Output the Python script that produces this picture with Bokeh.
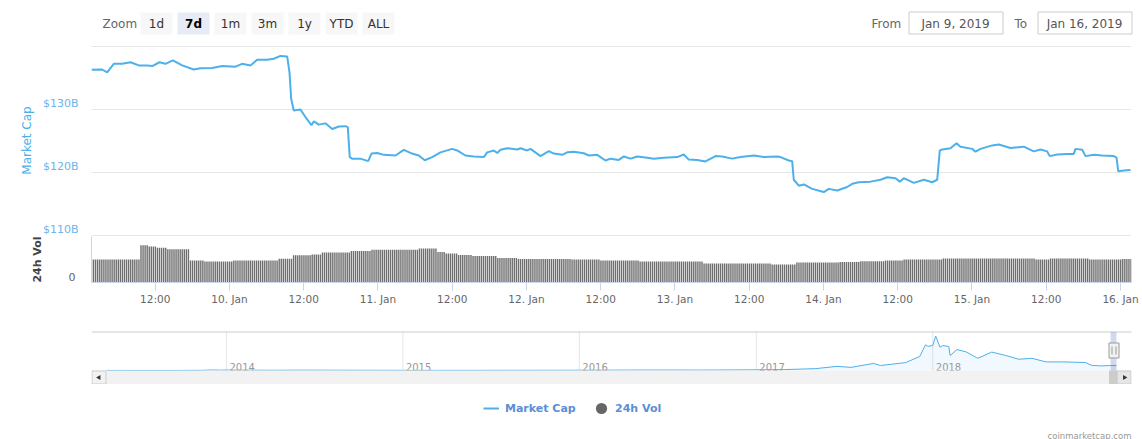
import numpy as np
import pandas as pd
from bokeh.plotting import figure
from bokeh.layouts import column
from bokeh.models import (Range1d, LinearAxis, FixedTicker, Grid, Legend, LegendItem)
from bokeh.core.properties import value
from bokeh.embed import file_html
from bokeh.resources import INLINE

# ---------------- data ----------------
T0 = pd.Timestamp("2019-01-09 00:00")          # hours below are counted from here
view_hours = [1.70, 169.78]                     # visible window of the main chart

cap_hours = [1.70, 3.43, 4.23, 5.30, 6.66, 8.00, 9.34, 10.70, 11.51, 12.69, 13.66, 14.84,
             16.36, 18.23, 19.31, 21.20, 22.82, 24.97, 26.05, 27.39, 28.48, 30.09, 31.16,
             32.24, 33.33, 33.70, 33.97, 34.39, 35.47, 36.28, 37.25, 37.62, 38.43, 39.52,
             40.60, 41.67, 42.75, 43.12, 43.44, 43.83, 45.17, 46.42, 46.95, 47.87, 48.94,
             50.83, 52.17, 53.25, 54.59, 55.56, 56.76, 58.10, 59.99, 60.80, 62.14, 63.48,
             65.10, 65.65, 66.72, 67.27, 67.80, 68.88, 70.50, 71.03, 72.11, 72.65, 74.26,
             75.61, 76.41, 77.77, 78.58, 79.65, 81.26, 82.07, 83.43, 84.77, 85.58, 86.92,
             87.73, 88.81, 89.89, 91.51, 92.58, 94.19, 96.36, 97.42, 98.23, 99.59, 100.93,
             102.55, 103.63, 105.25, 106.59, 108.74, 110.36, 112.52, 113.05, 114.39, 114.94,
             115.20, 116.01, 116.82, 118.18, 120.05, 120.86, 122.22, 123.83, 124.64, 125.71,
             127.60, 129.22, 130.30, 131.64, 132.33, 132.98, 134.60, 136.21, 137.57, 138.38,
             138.80, 139.19, 140.53, 141.50, 142.14, 144.04, 144.57, 145.38, 147.27, 148.33,
             150.22, 152.37, 153.99, 155.07, 156.15, 156.57, 157.77, 159.38, 160.45, 160.73,
             161.81, 162.35, 163.69, 165.04, 166.92, 167.36, 167.63, 168.54, 169.62]
cap_values = [136.3, 136.35, 135.9, 137.25, 137.25, 137.5, 137.0, 137.0, 136.9, 137.5, 137.25, 137.8,
              137.0, 136.35, 136.55, 136.6, 136.9, 136.8, 137.25, 137.0, 137.9, 137.9, 138.05,
              138.5, 138.4, 135.9, 131.7, 129.85, 130.0, 128.8, 127.5, 128.1, 127.6, 127.8,
              126.9, 127.3, 127.35, 127.2, 122.45, 122.2, 122.2, 121.8, 123.0, 123.1, 122.8,
              122.7, 123.6, 123.1, 122.7, 121.95, 122.45, 123.2, 123.75, 123.5, 122.7, 122.55,
              122.45, 123.2, 123.5, 123.1, 123.6, 123.85, 123.65, 123.85, 123.5, 123.75, 122.6,
              123.4, 123.0, 122.8, 123.2, 123.3, 123.05, 122.7, 122.8, 121.9, 122.2, 122.0,
              122.55, 122.2, 122.55, 122.35, 122.2, 122.35, 122.45, 122.85, 122.05, 122.0, 121.75,
              122.6, 122.55, 122.2, 122.45, 122.7, 122.45, 122.55, 122.45, 121.9, 121.8,
              118.85, 117.9, 118.1, 117.4, 116.9, 117.4, 117.15, 117.7, 118.2, 118.45,
              118.55, 118.85, 119.25, 119.1, 118.55, 119.1, 118.35, 118.85, 118.45, 118.85,
              123.5, 123.65, 123.85, 124.65, 124.1, 123.75, 123.3, 123.75, 124.3, 124.45,
              123.9, 124.1, 123.35, 123.65, 123.35, 122.6, 122.85, 122.95, 122.95, 123.75,
              123.6, 122.6, 122.8, 122.7, 122.6, 122.35, 120.2, 120.3, 120.4]

# 24h volume ($B): level read per stretch of the bar chart (start hour -> level)
vol_seg_hours = [1.70, 9.45, 10.75, 12.2, 13.98, 17.5, 19.8, 24.65, 31.76, 34.34, 37.09, 38.7,
                 43.56, 46.79, 54.38, 57.45, 58.75, 61.0, 63.1, 67.3, 70.5, 79.3, 84.0, 90.3,
                 100.4, 111.4, 115.5, 122.6, 125.7, 129.7, 132.8, 139.1, 154.1, 156.5, 162.8, 168.3]
vol_seg_values = [19.6, 31.5, 30.6, 29.5, 28.1, 18.7, 17.9, 18.7, 20.1, 23.0, 23.8, 25.5,
                  26.7, 27.8, 28.8, 25.9, 24.5, 23.4, 22.5, 20.8, 20.0, 19.4, 18.6, 17.7,
                  16.1, 15.3, 16.9, 17.4, 18.0, 18.6, 19.4, 20.3, 19.4, 20.3, 19.4, 20.0]
vol_bar_step_h = 1 / 3   # one bar every 20 minutes

x_tick_hours = [12, 24, 36, 48, 60, 72, 84, 96, 108, 120, 132, 144, 156, 168]
x_tick_labels = ["12:00", "10. Jan", "12:00", "11. Jan", "12:00", "12. Jan", "12:00",
                 "13. Jan", "12:00", "14. Jan", "12:00", "15. Jan", "12:00", "16. Jan"]

cap_tick_values = [110, 120, 130]
cap_tick_labels = ["$110B", "$120B", "$130B"]
cap_grid_values = [110, 120, 130, 140]
cap_axis_range = [110, 140]
vol_axis_max = 39.0

# navigator: whole history of total market cap ($B)
nav_dates = ["2013-04-28", "2013-07-05", "2013-10-01", "2013-11-15", "2013-12-04", "2013-12-20",
             "2014-01-05", "2014-02-20", "2014-04-10", "2014-06-01", "2014-09-01", "2014-12-01",
             "2015-01-15", "2015-06-01", "2015-11-05", "2015-12-31", "2016-06-17", "2016-09-01",
             "2016-12-31", "2017-03-01", "2017-05-04", "2017-06-17", "2017-07-16", "2017-09-01",
             "2017-09-15", "2017-11-06", "2017-12-05", "2017-12-17", "2017-12-22", "2018-01-01",
             "2018-01-07", "2018-01-16", "2018-01-22", "2018-02-03", "2018-02-06", "2018-02-20",
             "2018-03-12", "2018-04-04", "2018-05-03", "2018-06-01", "2018-06-28", "2018-07-25",
             "2018-08-23", "2018-09-29", "2018-11-13", "2018-11-25", "2018-12-15", "2019-01-04",
             "2019-01-16"]
nav_caps = [1.6, 0.9, 1.5, 5, 14, 8,
            11, 8, 6, 8, 6.5, 5,
            3, 3.6, 6, 6.5, 12.5, 10,
            16, 22, 45, 100, 75, 170,
            120, 190, 337, 620, 580, 601,
            830, 560, 601, 577, 360, 505,
            443, 293, 443, 361, 270, 293,
            207, 207, 192, 125, 110, 120,
            120]
year_dates = ["2014-01-01", "2015-01-01", "2016-01-01", "2017-01-01", "2018-01-01"]
year_labels = ["2014", "2015", "2016", "2017", "2018"]

zoom_buttons = ["1d", "7d", "1m", "3m", "1y", "YTD", "ALL"]
zoom_selected = "7d"
date_from, date_to = "Jan 9, 2019", "Jan 16, 2019"
series_names = ["Market Cap", "24h Vol"]

# ---------------- style / layout ----------------
FONT = "DejaVu Sans"
BLUE = "#4cb0ea"
LABEL_BLUE = "#6cb4ea"
LEG_BLUE = "#5a8fd5"
GRID = "#e6e6e6"
AXIS = "#ccd6eb"
W = 1142
LEFT, RIGHT = 91, 11
FRAME_W = W - LEFT - RIGHT   # 1040


def hrs(h):
    return T0 + pd.to_timedelta(np.asarray(h, dtype=float), unit="h")


def base_fig(height, **kw):
    f = figure(width=W, height=height, toolbar_location=None, output_backend="svg",
               title=None, outline_line_color=None, background_fill_color="white",
               border_fill_color="white", frame_align=False, **kw)
    for g in list(f.xgrid) + list(f.ygrid):
        g.visible = False
    return f


xr = Range1d(start=hrs(view_hours[0]), end=hrs(view_hours[1]))

# ---------------- header ----------------
HH = 44
H = base_fig(HH, x_range=Range1d(0, W), y_range=Range1d(0, HH),
             x_axis_location=None, y_axis_location=None,
             min_border_left=0, min_border_right=0, min_border_top=0, min_border_bottom=0)
b_left = [140 + 37 * i for i in range(len(zoom_buttons))]
b_right = [l + 32 for l in b_left]
b_fill = ["#e6ebf5" if b == zoom_selected else "#f7f7f7" for b in zoom_buttons]
H.quad(left=b_left, right=b_right, bottom=10, top=32, fill_color=b_fill, line_color=None)
norm = [i for i, b in enumerate(zoom_buttons) if b != zoom_selected]
sel = [i for i, b in enumerate(zoom_buttons) if b == zoom_selected]
H.text(x=[b_left[i] + 16 for i in norm], y=21, text=[zoom_buttons[i] for i in norm],
       text_align="center", text_baseline="middle", text_color="#333333",
       text_font=value(FONT), text_font_size=value("12px"))
H.text(x=[b_left[i] + 16 for i in sel], y=21, text=[zoom_buttons[i] for i in sel],
       text_align="center", text_baseline="middle", text_color="#000000",
       text_font=value(FONT), text_font_size=value("12px"), text_font_style="bold")
H.text(x=[102, 871, 1014], y=21, text=["Zoom", "From", "To"], text_align="left",
       text_baseline="middle", text_color="#666666",
       text_font=value(FONT), text_font_size=value("12px"))
H.quad(left=[908.5, 1037.5], right=[1002.5, 1131.5], bottom=10.5, top=32.5,
       fill_color="white", line_color="#cccccc", line_width=1)
H.text(x=[955, 1084], y=21, text=[date_from, date_to], text_align="center",
       text_baseline="middle", text_color="#555555",
       text_font=value(FONT), text_font_size=value("12px"))

# ---------------- main pane ----------------
cap_px = 189.0                     # pixels between $140B and $110B gridlines
cap_per_px = (cap_axis_range[1] - cap_axis_range[0]) / cap_px
yr_main = Range1d(cap_axis_range[0] - 1 * cap_per_px, cap_axis_range[1] + 2 * cap_per_px)
M = base_fig(192, x_range=xr, y_range=yr_main, x_axis_location=None, y_axis_location=None,
             min_border_left=LEFT, min_border_right=RIGHT, min_border_top=0, min_border_bottom=0)
shift = 6.5 * cap_per_px
M.extra_y_ranges = {"lab": Range1d(yr_main.start - shift, yr_main.end - shift)}
ax = LinearAxis(y_range_name="lab", ticker=FixedTicker(ticks=cap_tick_values),
                major_label_overrides=dict(zip(cap_tick_values, cap_tick_labels)),
                axis_line_color=None, major_tick_line_color=None, minor_tick_line_color=None,
                major_tick_out=0, major_tick_in=0,
                major_label_standoff=13, major_label_text_color=LABEL_BLUE,
                major_label_text_font=FONT, major_label_text_font_size="11px",
                axis_label=series_names[0], axis_label_standoff=6,
                axis_label_text_color=BLUE, axis_label_text_font=FONT,
                axis_label_text_font_size="12px", axis_label_text_font_style="normal")
M.add_layout(ax, "left")
M.add_layout(Grid(dimension=1, ticker=FixedTicker(ticks=cap_grid_values),
                  grid_line_color=GRID, grid_line_width=1))
M.line(x=hrs(cap_hours), y=cap_values, line_color=BLUE, line_width=2)

# ---------------- volume pane ----------------
V = base_fig(76, x_range=xr, y_range=Range1d(0, vol_axis_max), x_axis_type="datetime",
             y_axis_location=None, min_border_left=LEFT, min_border_right=RIGHT,
             min_border_top=0, min_border_bottom=30)
tick_ms = [float((T0 + pd.Timedelta(hours=h)).value / 1e6) for h in x_tick_hours]
xa = V.xaxis[0]
xa.ticker = FixedTicker(ticks=tick_ms)
xa.major_label_overrides = dict(zip(tick_ms, x_tick_labels))
xa.axis_line_color = AXIS
xa.major_tick_line_color = AXIS
xa.minor_tick_line_color = None
xa.major_tick_out = 8
xa.major_tick_in = 0
xa.major_label_standoff = 2
xa.major_label_text_color = "#666666"
xa.major_label_text_font = FONT
xa.major_label_text_font_size = "10.5px"

vol_per_px = vol_axis_max / 46.0
vshift = 6 * vol_per_px
V.extra_y_ranges = {"vlab": Range1d(0 - vshift, vol_axis_max - vshift)}
vax = LinearAxis(y_range_name="vlab", ticker=FixedTicker(ticks=[0]),
                 major_label_overrides={0: "0"}, axis_line_color=AXIS,
                 major_tick_line_color=None, minor_tick_line_color=None,
                 major_tick_out=0, major_tick_in=0,
                 major_label_standoff=16, major_label_text_color="#666666",
                 major_label_text_font=FONT, major_label_text_font_size="11px",
                 axis_label=series_names[1], axis_label_standoff=22,
                 axis_label_text_color="#444444", axis_label_text_font=FONT,
                 axis_label_text_font_size="11px", axis_label_text_font_style="bold")
V.add_layout(vax, "left")

bar_hours = np.arange(view_hours[0], view_hours[1], vol_bar_step_h)
seg_idx = np.clip(np.searchsorted(np.asarray(vol_seg_hours), bar_hours, side="right") - 1, 0, None)
bar_vals = np.asarray(vol_seg_values)[seg_idx]
V.vbar(x=hrs(bar_hours), top=bar_vals, bottom=0, width=vol_bar_step_h * 0.68 * 3600e3,
       fill_color="#6e6e6e", line_color=None)

# ---------------- navigator ----------------
nav_t = pd.to_datetime(nav_dates)
nav_span = nav_t[-1] - nav_t[0]
nav_pad = nav_span * (15.0 / (FRAME_W - 30))
NAV_H = 54
nav_base_px = 14.0
nav_k = 34.5 / 830.0      # px per $B in the navigator
N = base_fig(72, x_range=Range1d(nav_t[0] - nav_pad, nav_t[-1] + nav_pad),
             y_range=Range1d(-nav_base_px / nav_k, (NAV_H - nav_base_px) / nav_k),
             x_axis_location=None, y_axis_location=None,
             min_border_left=LEFT, min_border_right=RIGHT, min_border_top=18, min_border_bottom=0)
N.extra_x_ranges = {"px": Range1d(0, FRAME_W)}
N.extra_y_ranges = {"px": Range1d(0, NAV_H)}
yd = pd.to_datetime(year_dates)
N.segment(x0=yd, x1=yd, y0=nav_base_px, y1=NAV_H - 1, y_range_name="px",
          line_color=GRID, line_width=1)
N.varea(x=nav_t, y1=0, y2=nav_caps, fill_color=BLUE, fill_alpha=0.07)
N.line(x=nav_t, y=nav_caps, line_color=BLUE, line_width=1)
N.text(x=yd, y=nav_base_px + 4, text=year_labels, x_offset=3, y_range_name="px",
       text_align="left", text_baseline="alphabetic", text_color="#999999",
       text_font=value(FONT), text_font_size=value("10px"))
# frame outline + scrollbar + handles (interface chrome, in pixel units)
N.segment(x0=0, x1=FRAME_W, y0=NAV_H - 1.5, y1=NAV_H - 1.5, x_range_name="px", y_range_name="px",
          line_color="#cccccc", line_width=1)
N.quad(left=0, right=FRAME_W, bottom=0, top=nav_base_px, x_range_name="px", y_range_name="px",
       fill_color="#f2f2f2", line_color=None)
N.quad(left=[0.5, FRAME_W - 14.5], right=[14.5, FRAME_W - 0.5], bottom=0.5, top=nav_base_px - 0.5,
       x_range_name="px", y_range_name="px", fill_color=["#f2f2f2", "#e6e6e6"],
       line_color="#cccccc")
N.quad(left=FRAME_W - 22, right=FRAME_W - 14.5, bottom=0.5, top=nav_base_px - 0.5,
       x_range_name="px", y_range_name="px", fill_color="#cccccc", line_color="#cccccc")
N.scatter(x=[7.5, FRAME_W - 7], y=[7, 7], marker="triangle", angle=[np.pi / 2, -np.pi / 2],
          size=5, x_range_name="px", y_range_name="px", fill_color="#333333", line_color=None)
N.quad(left=FRAME_W - 21, right=FRAME_W - 15, bottom=nav_base_px, top=NAV_H - 1.5,
       x_range_name="px", y_range_name="px", fill_color="#6685c2", fill_alpha=0.3, line_color=None)
N.quad(left=FRAME_W - 22.5, right=FRAME_W - 12.5, bottom=26.5, top=41.5,
       x_range_name="px", y_range_name="px", fill_color="#f2f2f2", line_color="#999999")
N.segment(x0=[FRAME_W - 19.5, FRAME_W - 15.5], x1=[FRAME_W - 19.5, FRAME_W - 15.5], y0=30, y1=38,
          x_range_name="px", y_range_name="px", line_color="#999999")

# ---------------- legend + credits ----------------
LH = 55
L = base_fig(LH, x_range=Range1d(0, W), y_range=Range1d(0, LH),
             x_axis_location=None, y_axis_location=None,
             min_border_left=0, min_border_right=0, min_border_top=0, min_border_bottom=0)
r_cap = L.line(x=[np.nan], y=[np.nan], line_color=BLUE, line_width=2)
r_vol = L.scatter(x=[np.nan], y=[np.nan], size=11, fill_color="#666666", line_color=None)
leg_common = dict(orientation="horizontal", padding=0, margin=0, border_line_color=None,
                  background_fill_alpha=0, label_text_font=FONT, label_text_font_size="11px",
                  label_text_font_style="bold", label_text_color=LEG_BLUE, label_height=14)
leg1 = Legend(items=[LegendItem(label=series_names[0], renderers=[r_cap])],
              location=(483, 24), glyph_width=16, glyph_height=14, label_standoff=6, **leg_common)
leg2 = Legend(items=[LegendItem(label=series_names[1], renderers=[r_vol])],
              location=(587, 17), glyph_width=28, glyph_height=28, label_standoff=0, **leg_common)
L.add_layout(leg1)
L.add_layout(leg2)
L.text(x=[1131], y=[4], text=["coinmarketcap.com"], text_align="right",
       text_baseline="alphabetic", text_color="#999999",
       text_font=value(FONT), text_font_size=value("8.5px"))

layout = column(H, M, V, N, L, spacing=0)
open("out.html", "w").write(file_html(layout, INLINE))
